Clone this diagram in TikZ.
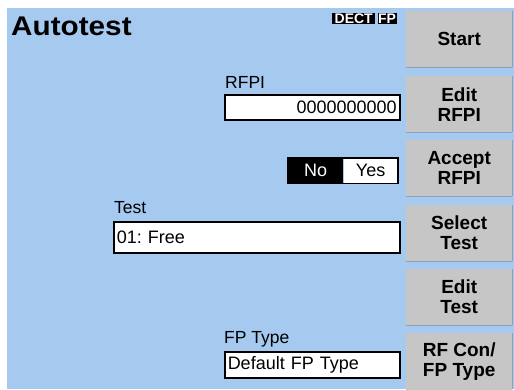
\documentclass[tikz,border=0pt]{standalone}
\usepackage{fontspec}
\setmainfont{Liberation Sans}
\frenchspacing
\usetikzlibrary{positioning}
\definecolor{screenblue}{RGB}{166,201,239}
\definecolor{keygray}{RGB}{198,198,198}
\definecolor{keyshadow}{RGB}{88,88,88}
\tikzset{%
  % Specifications for style of nodes:
      softkey/.style = {rectangle, fill=keygray, anchor=north west,
                        minimum width=106pt, minimum height=56pt, inner sep=0pt,
                        align=center, font=\fontsize{19}{20}\selectfont\bfseries,
                        append after command={\pgfextra{
                          \fill[white] (\tikzlastnode.south west) -- (\tikzlastnode.north west)
                            -- (\tikzlastnode.north east) -- ([shift={(-2pt,-2pt)}]\tikzlastnode.north east)
                            -- ([shift={(2pt,-2pt)}]\tikzlastnode.north west)
                            -- ([shift={(2pt,4pt)}]\tikzlastnode.south west) -- cycle;
                          \fill[keyshadow] (\tikzlastnode.south west) -- (\tikzlastnode.south east)
                            -- (\tikzlastnode.north east) -- ([shift={(-2pt,-2pt)}]\tikzlastnode.north east)
                            -- ([shift={(-2pt,4pt)}]\tikzlastnode.south east)
                            -- ([shift={(2pt,4pt)}]\tikzlastnode.south west) -- cycle;}}},
        field/.style = {rectangle, draw=black, line width=1.5pt, fill=white,
                        anchor=north west, inner sep=3pt,
                        font=\fontsize{18}{18}\selectfont},
   fieldlabel/.style = {anchor=base west, inner sep=0pt,
                        font=\fontsize{17.5}{17.5}\selectfont},
       toggle/.style = {rectangle, anchor=north west, minimum width=54pt,
                        minimum height=25pt, inner sep=0pt,
                        font=\fontsize{18}{18}\selectfont},
        badge/.style = {rectangle, fill=black, text=white, anchor=north west,
                        minimum height=11pt, inner sep=0pt,
                        font=\fontsize{14}{14}\selectfont\bfseries},
}
\begin{document}
\begin{tikzpicture}[x=1pt, y=-1pt]
  \useasboundingbox (0,0) rectangle (514,389);
  \fill[screenblue] (7,8) rectangle (514,389);
  % Specification of header
  \node[anchor=base west, inner sep=0pt, xscale=1.1,
        font=\fontsize{27}{27}\selectfont\bfseries] (title) at (11,35) {Autotest};
  \node[badge, minimum width=43pt] (dect) at (332,13) {DECT};
  \node[badge, minimum width=19pt, right=2pt of dect] (fp) {FP};
  % Specification of fields and their labels
  \node[field, minimum height=25pt, text width=169pt, align=right] (rfpibox) at (224,94) {0000000000};
  \node[fieldlabel] (rfpilabel) at ([shift={(1pt,6pt)}]rfpibox.north west) {RFPI};
  \node[toggle, fill=black, text=white, minimum width=55pt] (togno) at (288,158) {No};
  \node[toggle, fill=white, right=0pt of togno] (togyes) {Yes};
  \draw[line width=1.5pt] (togno.north west) rectangle (togyes.south east);
  \node[field, minimum height=31pt, text width=280pt, align=left] (testbox) at (113,221) {01: Free};
  \node[fieldlabel] (testlabel) at ([shift={(1pt,8pt)}]testbox.north west) {Test};
  \node[field, minimum height=26pt, text width=169pt, align=left] (fpbox) at (224,351) {Default FP Type};
  \node[fieldlabel] (fplabel) at ([shift={(0pt,8pt)}]fpbox.north west) {FP Type};
  % Specification of soft keys
  \node[softkey] (start)  at (406,11)  {Start};
  \node[softkey] (editrfpi)  at (406,76)  {Edit\\RFPI};
  \node[softkey] (accept) at (406,140) {Accept\\RFPI};
  \node[softkey] (select) at (406,205) {Select\\Test};
  \node[softkey] (edittest) at (406,269) {Edit\\Test};
  \node[softkey] (rfcon)  at (406,333) {RF Con/\\FP Type};
\end{tikzpicture}
\end{document}
